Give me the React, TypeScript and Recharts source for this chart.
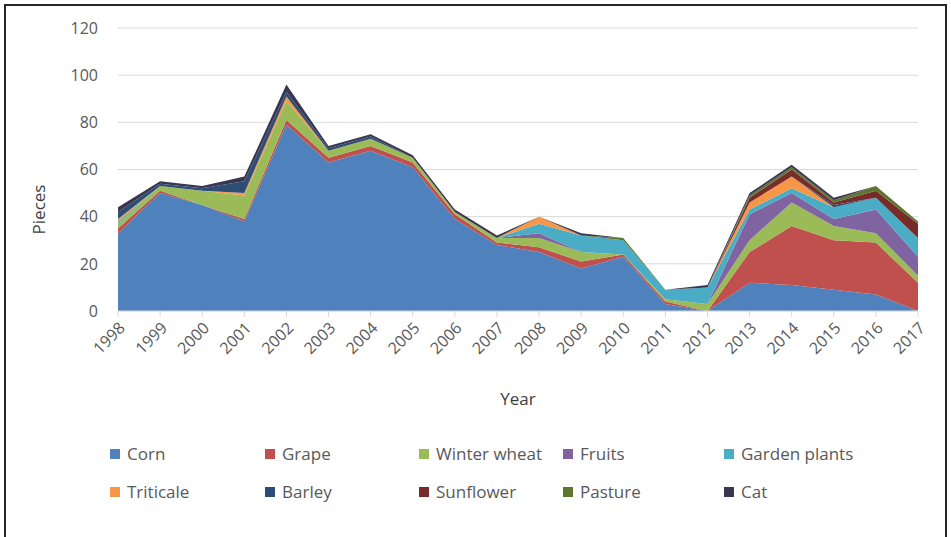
import React from "react";
import { AreaChart, Area, XAxis, YAxis, CartesianGrid, Label } from "recharts";

const years = ["1998","1999","2000","2001","2002","2003","2004","2005","2006","2007","2008","2009","2010","2011","2012","2013","2014","2015","2016","2017"];
const corn         = [33, 50, 45, 38, 79, 63, 68, 61, 39, 28, 25, 18, 23, 3, 0, 12, 11, 9, 7, 0];
const grape        = [2, 1, 0, 1, 2, 2, 2, 2, 2, 1, 2, 3, 1, 1, 0, 13, 25, 21, 22, 12];
const winterWheat  = [2, 2, 6, 10, 8, 3, 3, 2, 1, 2, 4, 4, 0, 1, 3, 5, 10, 6, 4, 3];
const fruits       = [0, 0, 0, 0, 0, 0, 0, 0, 0, 0, 2, 0, 0, 0, 0, 11, 4, 3, 10, 8];
const gardenPlants = [1, 0, 0, 0, 0, 0, 0, 0, 0, 0, 4, 7, 6, 4, 7, 2, 2, 5, 5, 8];
const triticale    = [1, 0, 0, 1, 2, 0, 0, 0, 0, 0, 3, 0, 0, 0, 0, 3, 5, 0, 0, 0];
const barley       = [3, 1, 1, 5, 2, 1, 1, 0, 0, 0, 0, 0, 0, 0, 0, 0, 0, 1, 0, 0];
const sunflower    = [0, 0, 0, 0, 0, 0, 0, 0, 0, 0, 0, 0, 0, 0, 0, 2, 3, 1, 3, 6];
const pasture      = [0, 0, 0, 0, 0, 0, 0, 0, 0, 0, 0, 0, 1, 0, 0, 1, 1, 1, 2, 1];
const cat          = [2, 1, 1, 2, 3, 1, 1, 1, 1, 1, 0, 1, 0, 0, 1, 1, 1, 1, 0, 0];
const yTicks = [0, 20, 40, 60, 80, 100, 120];

const series = [
  { key: "Corn", values: corn, color: "#4F81BD" },
  { key: "Grape", values: grape, color: "#C0504D" },
  { key: "Winter wheat", values: winterWheat, color: "#9BBB59" },
  { key: "Fruits", values: fruits, color: "#8064A2" },
  { key: "Garden plants", values: gardenPlants, color: "#4BACC6" },
  { key: "Triticale", values: triticale, color: "#F79646" },
  { key: "Barley", values: barley, color: "#2C4D75" },
  { key: "Sunflower", values: sunflower, color: "#772C2A" },
  { key: "Pasture", values: pasture, color: "#5F7530" },
  { key: "Cat", values: cat, color: "#3A3650" },
];

const data = years.map((y, i) => {
  const row: Record<string, any> = { year: y };
  series.forEach((s) => (row[s.key] = s.values[i]));
  return row;
});

const FONT = "'Open Sans', 'DejaVu Sans', sans-serif";

const XTick = (props: any) => {
  const { x, y, payload } = props;
  const tx = x + 8;
  const ty = y + 10;
  return (
    <text x={tx} y={ty} transform={`rotate(-45 ${tx} ${ty})`} textAnchor="end" fill="#595959" fontSize={16} fontFamily={FONT}>
      {payload.value}
    </text>
  );
};

const PiecesLabel = (props: any) => {
  const vb = props.viewBox || { x: 58, y: 28, width: 60, height: 283 };
  const cx = vb.x - 20;
  const cy = vb.y + vb.height / 2 + 40;
  return (
    <text x={cx} y={cy} transform={`rotate(-90 ${cx} ${cy})`} textAnchor="middle" dominantBaseline="central" fill="#404040" fontSize={17} fontFamily={FONT}>
      Pieces
    </text>
  );
};

const legendCols = [110, 265, 419, 563, 724];

export default function App() {
  return (
    <div style={{ position: "fixed", left: 0, top: 0, width: 951, height: 537, background: "#fff", overflow: "hidden", fontFamily: FONT }}>
      <div style={{ position: "absolute", left: 4, top: 4, width: 939, height: 560, border: "2px solid #262626" }} />
      <div style={{ position: "absolute", left: 0, top: 0 }}>
        <AreaChart width={951} height={537} data={data} margin={{ top: 28, right: 33, left: 58, bottom: 0 }}>
          <CartesianGrid vertical={false} stroke="#d9d9d9" />
          <XAxis dataKey="year" height={226} tickLine={{ stroke: "#d9d9d9" }} axisLine={{ stroke: "#d9d9d9" }} tick={<XTick />} interval={0}>
            <Label value="Year" position="insideTop" offset={82} fill="#404040" fontSize={17} fontFamily={FONT} />
          </XAxis>
          <YAxis width={60} domain={[0, 120]} ticks={yTicks} axisLine={false} tickLine={false} tick={{ fill: "#595959", fontSize: 16, fontFamily: FONT }} tickMargin={14}>
            <Label content={<PiecesLabel />} />
          </YAxis>
          {series.map((s) => (
            <Area key={s.key} type="linear" dataKey={s.key} stackId="1" stroke="none" fill={s.color} fillOpacity={1} isAnimationActive={false} dot={false} activeDot={false} />
          ))}
        </AreaChart>
      </div>
      {series.map((s, i) => (
        <div key={s.key} style={{ position: "absolute", left: legendCols[i % 5], top: i < 5 ? 442 : 480, display: "flex", alignItems: "center", fontSize: 17, color: "#595959", whiteSpace: "nowrap" }}>
          <span style={{ display: "inline-block", width: 10, height: 10, background: s.color, marginRight: 7 }} />
          {s.key}
        </div>
      ))}
    </div>
  );
}
